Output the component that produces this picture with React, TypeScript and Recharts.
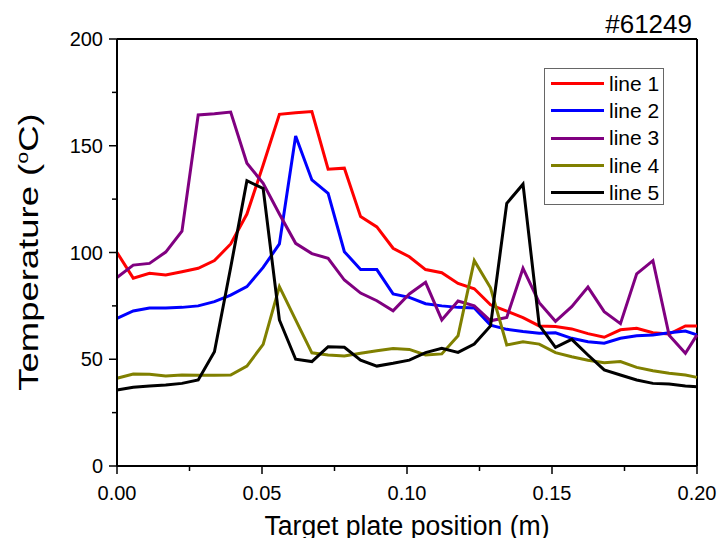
import { Legend, Line, LineChart, ReferenceLine, XAxis, YAxis } from "recharts";

// target plate position (m)
const positions = [
  0, 0.0056, 0.0112, 0.0168, 0.0224, 0.028, 0.0336, 0.0392, 0.0448, 0.0504,
  0.056, 0.0616, 0.0672, 0.0728, 0.0784, 0.084, 0.0896, 0.0952, 0.1008, 0.1064,
  0.112, 0.1176, 0.1232, 0.1288, 0.1344, 0.14, 0.1456, 0.1512, 0.1568, 0.1624,
  0.168, 0.1736, 0.1792, 0.1848, 0.1904, 0.196, 0.2,
];

const line1 = [
  100, 88, 90.3, 89.5, 91, 92.6, 96.2, 104, 118, 141, 164.7, 165.5, 166, 139, 139.5,
  116.8, 112, 102, 98, 92, 90.5, 85.5, 83, 75.5, 72.5, 69.5, 65.6, 65.3, 64.2, 62,
  60.3, 63.8, 64.5, 62.4, 61.8, 65.6, 65.6,
];
const line2 = [
  69.2, 72.6, 74, 74, 74.3, 75, 77, 80, 84, 93, 104, 154.6, 134, 127.7, 100.4, 92, 92,
  80.6, 79, 76, 75, 74.3, 74, 66, 64, 63, 62.2, 62.4, 59.8, 58.2, 57.5, 59.8, 61, 61.4,
  62.4, 63.2, 61.4,
];
const line3 = [
  88.3, 94.1, 94.9, 100.2, 110, 164.4, 165, 165.8, 141.8, 132.4, 118, 104.3, 99.5, 97.3,
  87.1, 81, 77.4, 72.7, 80.6, 86, 68.4, 77.3, 75, 68, 69.6, 92.6, 76.5, 67.8, 74.6, 83.8,
  72.3, 66.7, 90, 96.2, 61.2, 52.8, 61.4,
];
const line4 = [
  41.1, 43.1, 43, 42.2, 42.6, 42.5, 42.5, 42.6, 46.8, 57, 84, 68.4, 53, 52, 51.5, 52.8,
  54, 55, 54.6, 52, 52.5, 61, 96.2, 83.5, 56.7, 58.2, 57.1, 53.1, 51.2, 49.5, 48.4, 48.9,
  46.2, 44.6, 43.4, 42.6, 41.5,
];
const line5 = [
  35.6, 36.9, 37.5, 37.9, 38.7, 40.3, 53.5, 93, 133.6, 130, 68.4, 50, 48.9, 55.9, 55.6,
  49.6, 46.8, 48.1, 49.6, 53.1, 55.1, 53.2, 57.1, 65.6, 123, 132, 66, 55.6, 59.3, 52, 45,
  42.6, 40.3, 38.7, 38.4, 37.5, 37.1,
];

const seriesNames = ["line 1", "line 2", "line 3", "line 4", "line 5"];
const seriesColors = ["#ff0000", "#0000ff", "#800080", "#808000", "#000000"];
const seriesValues = [line1, line2, line3, line4, line5];

const xTicks = [0, 0.025, 0.05, 0.075, 0.1, 0.125, 0.15, 0.175, 0.2];
const xMajor = [0, 0.05, 0.1, 0.15, 0.2];
const yTicks = [0, 25, 50, 75, 100, 125, 150, 175, 200];
const yMajor = [0, 50, 100, 150, 200];

const data = positions.map((x, i) => {
  const row: any = { x };
  seriesValues.forEach((s, k) => (row["s" + k] = s[i]));
  return row;
});

const font = "'Liberation Sans', Arial, sans-serif";

function XTick({ x, y, payload }: any) {
  const v = payload.value;
  const major = xMajor.some((m) => Math.abs(m - v) < 1e-9);
  return (
    <g>
      <line x1={x} x2={x} y1={y} y2={y + (major ? 8 : 5)} stroke="#000" strokeWidth={1.5} />
      {major && (
        <text x={x} y={y + 34} textAnchor="middle" fontSize={20} fill="#000" fontFamily={font}>
          {v.toFixed(2)}
        </text>
      )}
    </g>
  );
}

function YTick({ x, y, payload }: any) {
  const v = payload.value;
  const major = yMajor.includes(v);
  return (
    <g>
      <line x1={x} x2={x - (major ? 8 : 5)} y1={y} y2={y} stroke="#000" strokeWidth={1.5} />
      {major && (
        <text x={x - 14} y={y} dy="0.35em" textAnchor="end" fontSize={20} fill="#000" fontFamily={font}>
          {v}
        </text>
      )}
    </g>
  );
}

function LegendBox({ payload }: any) {
  return (
    <div
      style={{
        width: 120,
        height: 137,
        border: "1px solid #666",
        background: "#fff",
        boxSizing: "border-box",
        paddingTop: 1,
        fontFamily: font,
      }}
    >
      {(payload || []).map((p: any) => (
        <div key={p.value} style={{ display: "flex", alignItems: "center", height: 27.3 }}>
          <span
            style={{ display: "inline-block", width: 53, height: 3, background: p.color, marginLeft: 6, marginRight: 5 }}
          />
          <span style={{ fontSize: 21, color: "#000" }}>{p.value}</span>
        </div>
      ))}
    </div>
  );
}

export default function App() {
  return (
    <div style={{ position: "absolute", left: 0, top: 0, width: 717, height: 538, background: "#fff", fontFamily: font }}>
      <LineChart width={717} height={538} data={data} margin={{ top: 39, right: 20, bottom: 0, left: 0 }}>
        <XAxis
          dataKey="x"
          type="number"
          domain={[0, 0.2]}
          ticks={xTicks}
          interval={0}
          height={72}
          tickSize={0}
          tickMargin={0}
          tickLine={false}
          axisLine={{ stroke: "#000", strokeWidth: 2 }}
          tick={(p: any) => <XTick {...p} />}
          label={() => (
            <text
              x={407}
              y={535}
              textAnchor="middle"
              fontSize={27}
              textLength={285}
              lengthAdjust="spacingAndGlyphs"
              fill="#000"
              fontFamily={font}
            >
              Target plate position (m)
            </text>
          )}
        />
        <YAxis
          type="number"
          domain={[0, 200]}
          ticks={yTicks}
          interval={0}
          width={117}
          tickSize={0}
          tickMargin={0}
          tickLine={false}
          axisLine={{ stroke: "#000", strokeWidth: 2 }}
          tick={(p: any) => <YTick {...p} />}
          label={() => (
            <text
              transform="translate(38,252) rotate(-90) scale(1.35,1)"
              textAnchor="middle"
              fontSize={27}
              fill="#000"
              fontFamily={font}
            >
              Temperature (<tspan dy={-10} fontSize={16}>o</tspan>
              <tspan dy={10}>C)</tspan>
            </text>
          )}
        />
        <ReferenceLine y={200} stroke="#000" strokeWidth={2} />
        <ReferenceLine x={0.2} stroke="#000" strokeWidth={2} />
        {seriesNames.map((name, k) => (
          <Line
            key={name}
            type="linear"
            dataKey={"s" + k}
            name={name}
            stroke={seriesColors[k]}
            strokeWidth={3}
            dot={false}
            activeDot={false}
            isAnimationActive={false}
          />
        ))}
        <Legend
          layout="vertical"
          align="center"
          verticalAlign="middle"
          wrapperStyle={{ position: "absolute", left: 544, top: 68, width: 120, height: 137 }}
          content={(p: any) => <LegendBox {...p} />}
        />
      </LineChart>
      <div
        style={{
          position: "absolute",
          right: 25,
          top: 11,
          fontSize: 26,
          lineHeight: "26px",
          fontFamily: font,
          color: "#000",
        }}
      >
        #61249
      </div>
    </div>
  );
}
